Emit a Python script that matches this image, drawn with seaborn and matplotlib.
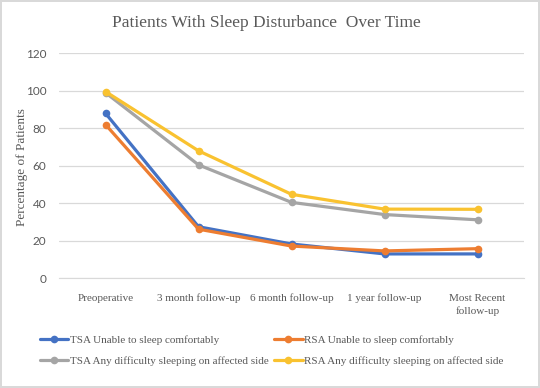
import matplotlib
matplotlib.use("Agg")
import matplotlib.pyplot as plt
import seaborn as sb
import pandas as pd

# data
timepoints = ["Preoperative", "3 month follow-up", "6 month follow-up",
              "1 year follow-up", "Most Recent\nfollow-up"]
tsaUnable = [88, 27.5, 18.3, 13, 13]
rsaUnable = [82, 26.2, 17.2, 14.6, 15.8]
tsaDifficulty = [99, 60.5, 40.5, 34, 31.2]
rsaDifficulty = [99.6, 68, 44.8, 36.9, 36.8]

seriesNames = ["TSA Unable to sleep comfortably", "RSA Unable to sleep comfortably",
               "TSA Any difficulty sleeping on affected side",
               "RSA Any difficulty sleeping on affected side"]
seriesColors = ["#4472C4", "#ED7D31", "#A5A5A5", "#F9C230"]


if __name__ == '__main__':
    frames = []
    for name, values in zip(seriesNames, [tsaUnable, rsaUnable, tsaDifficulty, rsaDifficulty]):
        frames.append(pd.DataFrame({"Time": range(len(timepoints)), "Percent": values, "Series": name}))
    df = pd.concat(frames)

    sb.set_style("white")
    plt.rcParams['font.family'] = ['Liberation Serif', 'DejaVu Serif']

    fig = plt.figure(figsize=(5.4, 3.88), dpi=100)
    fig.patch.set_edgecolor("#d9d9d9")
    fig.patch.set_linewidth(1.5)
    ax = fig.add_axes([59 / 540, 1 - 278.3 / 388, 465 / 540, 225 / 388])

    sb.lineplot(data=df, x="Time", y="Percent", hue="Series", hue_order=seriesNames,
                palette=dict(zip(seriesNames, seriesColors)), linewidth=2.3,
                marker="o", markersize=5.5, markeredgewidth=0, ax=ax, zorder=3)

    ax.set_xlim(-0.5, len(timepoints) - 0.5)
    ax.set_ylim(0, 120)
    ax.set_yticks(range(0, 121, 20))
    ax.set_xticks(range(len(timepoints)))
    ax.set_xticklabels(timepoints, linespacing=1.45)
    for lab in ax.get_yticklabels():
        lab.set_family(['Lato', 'DejaVu Sans'])
    ax.grid(axis="y", color="#d9d9d9", linewidth=0.9)
    ax.set_axisbelow(True)
    for side in ["top", "right", "left"]:
        ax.spines[side].set_visible(False)
    ax.spines["bottom"].set_color("#d9d9d9")
    ax.tick_params(axis="y", length=0, labelsize=8.5, labelcolor="#595959", pad=9)
    ax.tick_params(axis="x", length=0, labelsize=8, labelcolor="#595959", pad=11)
    ax.set_xlabel("")
    ax.set_ylabel("")
    fig.text(22 / 540, 1 - 167 / 388, "Percentage of Patients", rotation=90,
             fontsize=9.5, color="#595959", ha="center", va="center")
    fig.text(266 / 540, 1 - 23 / 388, "Patients With Sleep Disturbance  Over Time",
             fontsize=12.5, color="#595959", ha="center", va="center")

    handles, labels = ax.get_legend_handles_labels()
    order = [0, 2, 1, 3]
    ax.legend([handles[i] for i in order], [labels[i] for i in order],
              loc="upper left", bbox_to_anchor=(34 / 540, 1 - 330 / 388),
              bbox_transform=fig.transFigure,
              ncol=2, frameon=False, fontsize=8, handlelength=2.6,
              handletextpad=0.1, columnspacing=0.5, labelspacing=0.95,
              borderpad=0, labelcolor="#595959")

    fig.savefig("out.png", dpi=100, edgecolor=fig.get_edgecolor())
